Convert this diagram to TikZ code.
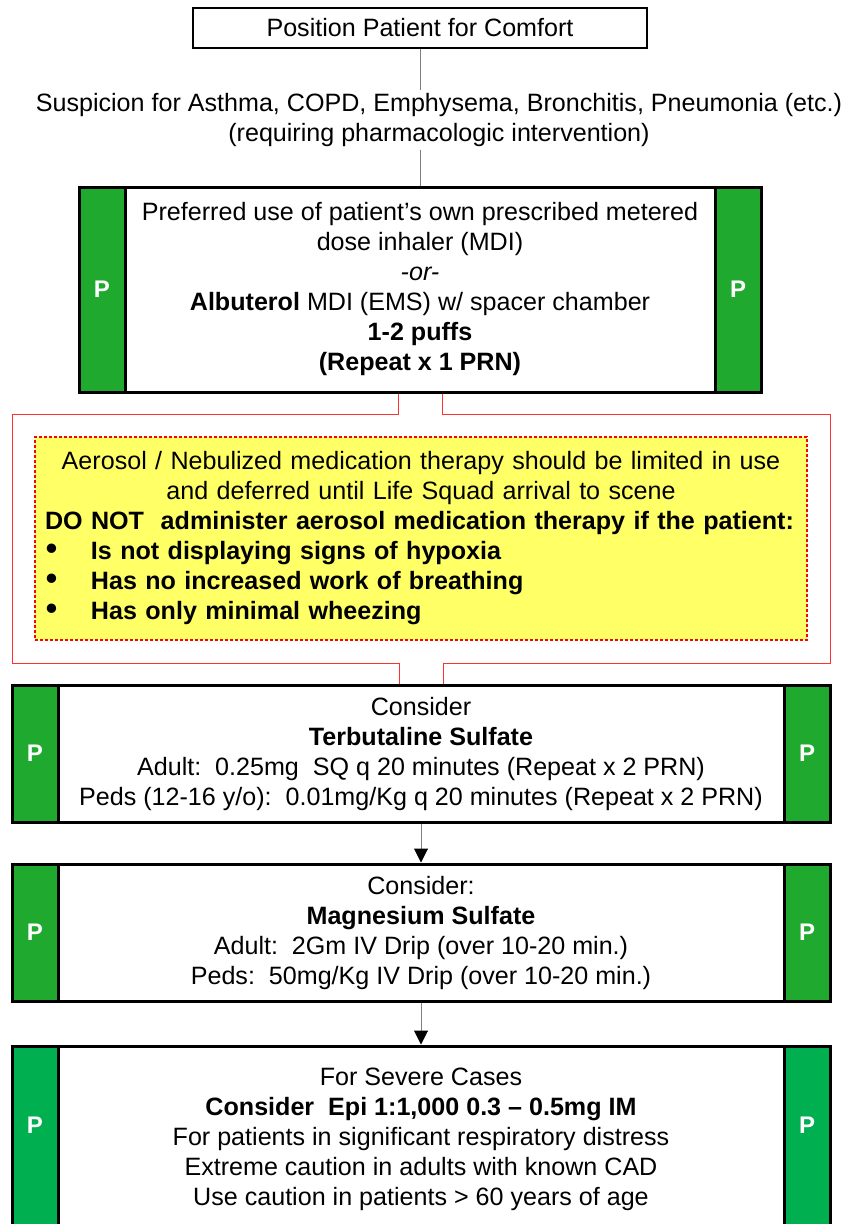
\documentclass[tikz,border=0pt]{standalone}
\usepackage{fontspec}
\setmainfont{Liberation Sans}
\usetikzlibrary{arrows.meta}
\definecolor{pgreen}{RGB}{31,170,47}
\definecolor{pgreenb}{RGB}{0,176,80}
\definecolor{warnyellow}{RGB}{255,255,102}
\definecolor{linegray}{RGB}{128,128,128}
\definecolor{redln}{RGB}{255,50,50}
\newcommand{\blt}{\makebox[46pt][l]{\hspace{1pt}\scalebox{1.3}{\textbullet}}}
\begin{document}
\begin{tikzpicture}[x=1pt,y=-1pt,font=\fontsize{25.1}{30}\selectfont,
  box/.style={draw=black,line width=3pt,fill=white,align=center,inner sep=0pt},
  strip/.style={draw=black,line width=3pt,fill=pgreen,inner sep=0pt,text=white,font=\fontsize{24}{28}\selectfont\bfseries},
  stripb/.style={strip,fill=pgreenb},
  plabel/.style={text=white,font=\fontsize{24}{28}\selectfont\bfseries,inner sep=0pt},
  conn/.style={draw=linegray,line width=1pt},
  arr/.style={conn,-{Triangle[color=black,width=14pt,length=14pt]}},
  redl/.style={draw=redln,line width=1pt},
  warnbox/.style={fill=warnyellow,draw=red,line width=2.5pt,dash pattern=on 3pt off 2pt}]
\path[use as bounding box] (0,0) rectangle (844,1224);
\clip (0,0) rectangle (844,1224);

% box 1
\node[box,line width=2.5pt,minimum width=454pt,minimum height=40pt] (b1) at (420,28) {Position Patient for Comfort};

% suspicion text
\node[align=center,inner sep=3pt] (sus) at (439,120) {Suspicion for Asthma, COPD, Emphysema, Bronchitis, Pneumonia (etc.)\\(requiring pharmacologic intervention)};

% box 2
\node[box,minimum width=682pt,minimum height=205pt] (b2) at (420,289.5) {Preferred use of patient’s own prescribed metered\\dose inhaler (MDI)\\\textit{-or-}\\\textbf{Albuterol} MDI (EMS) w/ spacer chamber\\\textbf{1-2 puffs}\\\textbf{(Repeat x 1 PRN)}};
\node[strip,anchor=north west,minimum width=46pt,minimum height=205pt] (b2l) at (b2.north west) {P};
\node[strip,anchor=north east,minimum width=46pt,minimum height=205pt] (b2r) at (b2.north east) {P};

\draw[conn] (b1.south) -- (b1.south |- sus.north);
\draw[conn] (b2.north |- sus.south) -- (b2.north);

% warning box
\node[warnbox,text width=752pt,inner xsep=10pt,inner ysep=0pt,minimum height=203pt] (warn) at (421,538.5)
 {\parindent=0pt\centering Aerosol / Nebulized medication therapy should be limited in use\\and deferred until Life Squad arrival to scene\par
  \raggedright\bfseries \makebox[0pt][l]{DO NOT\ \ administer aerosol medication therapy if the patient:}\\
  \blt Is not displaying signs of hypoxia\\
  \blt Has no increased work of breathing\\
  \blt Has only minimal wheezing\par};

% box 3
\node[box,minimum width=818pt,minimum height=137pt] (b3) at (421,753.5) {Consider\\\textbf{Terbutaline Sulfate}\\Adult:\ \ 0.25mg\ \ SQ q 20 minutes (Repeat x 2 PRN)\\Peds (12-16 y/o):\ \ 0.01mg/Kg q 20 minutes (Repeat x 2 PRN)};
\node[strip,anchor=north west,minimum width=46pt,minimum height=137pt] (b3l) at (b3.north west) {P};
\node[strip,anchor=north east,minimum width=46pt,minimum height=137pt] (b3r) at (b3.north east) {P};

% red connectors around the warning
\coordinate (rtl) at (12,414);
\coordinate (rbl) at (12,663);
\coordinate (rtr) at (830,414);
\coordinate (rbr) at (830,663);
\draw[redl] ([xshift=-22pt]b2.south) |- (rtl) -- (rbl) -| ([xshift=-22pt]b3.north);
\draw[redl] ([xshift=22pt]b2.south) |- (rtr) -- (rbr) -| ([xshift=22pt]b3.north);

% box 4
\node[box,minimum width=818pt,minimum height=137pt] (b4) at (421,932.5) {Consider:\\\textbf{Magnesium Sulfate}\\Adult:\ \ 2Gm IV Drip (over 10-20 min.)\\Peds:\ \ 50mg/Kg IV Drip (over 10-20 min.)};
\node[strip,anchor=north west,minimum width=46pt,minimum height=137pt] (b4l) at (b4.north west) {P};
\node[strip,anchor=north east,minimum width=46pt,minimum height=137pt] (b4r) at (b4.north east) {P};

% box 5
\node[box,minimum width=818pt,minimum height=186pt] (b5) at (421,1139) {For Severe Cases\\\textbf{Consider\ \ Epi 1:1,000 0.3 – 0.5mg IM}\\For patients in significant respiratory distress\\Extreme caution in adults with known CAD\\Use caution in patients > 60 years of age};
\node[stripb,anchor=north west,minimum width=46pt,minimum height=186pt] (b5l) at (b5.north west) {};
\node[stripb,anchor=north east,minimum width=46pt,minimum height=186pt] (b5r) at (b5.north east) {};
\node[plabel] (p5l) at (b5l.center |- 0,1125) {P};
\node[plabel] (p5r) at (b5r.center |- 0,1125) {P};

\draw[arr] (b3.south) -- (b4.north);
\draw[arr] (b4.south) -- (b5.north);
\end{tikzpicture}
\end{document}
